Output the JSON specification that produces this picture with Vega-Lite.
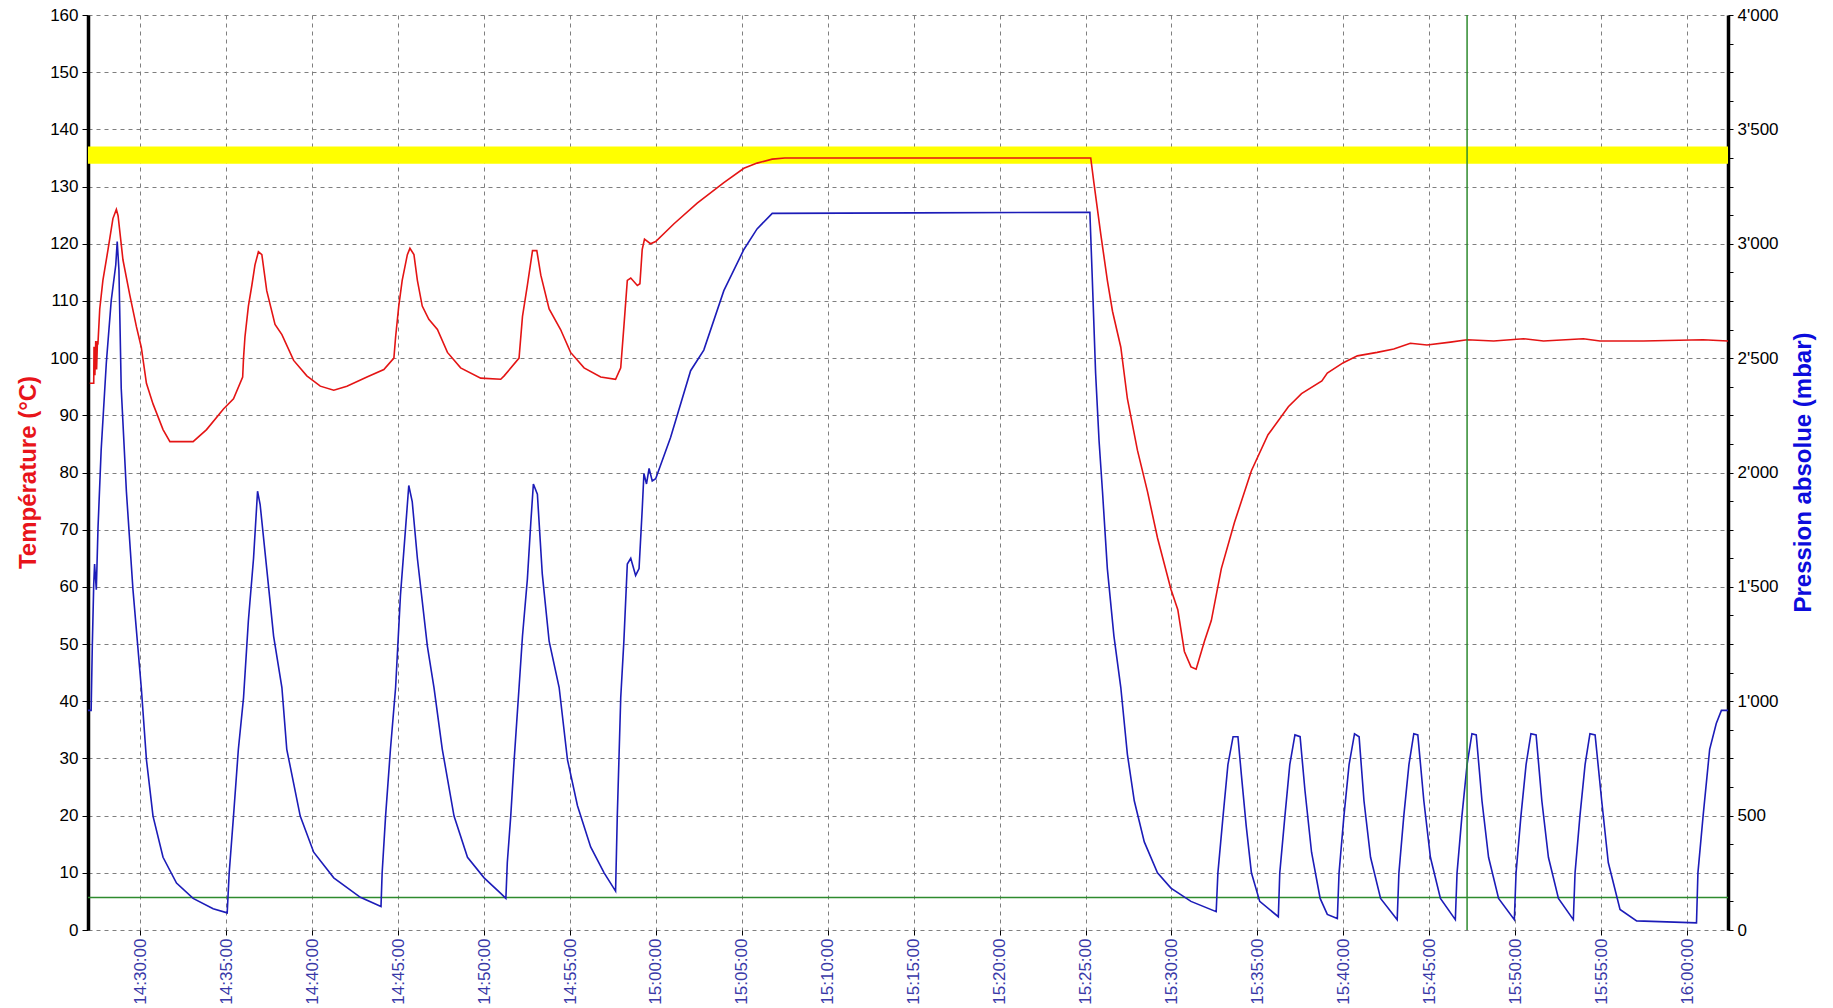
{
  "$schema": "https://vega.github.io/schema/vega-lite/v6.json",
  "width": 1640,
  "height": 915,
  "autosize": {"type": "none"},
  "padding": {"left": 88, "top": 15, "right": 105, "bottom": 78},
  "background": "white",
  "config": {
    "view": {"stroke": null},
    "axis": {
      "labelFont": "Liberation Sans",
      "labelFontSize": 17,
      "labelColor": "black",
      "titleFont": "Liberation Sans",
      "titleFontSize": 24,
      "titleFontWeight": "bold",
      "gridColor": "#7f7f7f",
      "gridDash": [4, 4],
      "gridWidth": 1,
      "tickColor": "black"
    }
  },
  "resolve": {"scale": {"y": "independent"}},
  "layer": [
    {
      "layer": [
        {
          "data": {"values": [{"lo": 134, "hi": 137}]},
          "mark": {"type": "rect", "color": "#ffff00"},
          "encoding": {
            "y": {
              "field": "lo", "type": "quantitative",
              "title": "Température (°C)",
              "scale": {"domain": [0, 160], "nice": false},
              "axis": {
                "orient": "left",
                "values": [0, 10, 20, 30, 40, 50, 60, 70, 80, 90, 100, 110, 120, 130, 140, 150, 160],
                "grid": true,
                "tickSize": 6,
                "labelPadding": 4,
                "domainColor": "black",
                "domainWidth": 3.5,
                "titleColor": "#e8141a",
                "titleAngle": 270,
                "titleX": -53,
                "titleY": 457,
                "titleAlign": "center",
                "titleBaseline": "alphabetic"
              }
            },
            "y2": {"field": "hi"}
          }
        },
        {
          "data": {"values": [{"lim": 5.7}]},
          "mark": {"type": "rule", "color": "#2e8b2e", "strokeWidth": 1.5},
          "encoding": {
            "y": {"field": "lim", "type": "quantitative", "title": "Température (°C)"}
          }
        },
        {
          "data": {"values": [
            {"t": "2024-01-01T14:27:03", "v": 95.6},
            {"t": "2024-01-01T14:27:17", "v": 95.6},
            {"t": "2024-01-01T14:27:18", "v": 102},
            {"t": "2024-01-01T14:27:21", "v": 97},
            {"t": "2024-01-01T14:27:24", "v": 103},
            {"t": "2024-01-01T14:27:27", "v": 98},
            {"t": "2024-01-01T14:27:30", "v": 103},
            {"t": "2024-01-01T14:27:32", "v": 102.8},
            {"t": "2024-01-01T14:27:38", "v": 108.6},
            {"t": "2024-01-01T14:27:49", "v": 113.6},
            {"t": "2024-01-01T14:28:07", "v": 119},
            {"t": "2024-01-01T14:28:24", "v": 124.4},
            {"t": "2024-01-01T14:28:36", "v": 126},
            {"t": "2024-01-01T14:28:42", "v": 124.9},
            {"t": "2024-01-01T14:28:59", "v": 117.2},
            {"t": "2024-01-01T14:29:23", "v": 111},
            {"t": "2024-01-01T14:29:46", "v": 105.5},
            {"t": "2024-01-01T14:30:03", "v": 101.9},
            {"t": "2024-01-01T14:30:21", "v": 95.6},
            {"t": "2024-01-01T14:30:44", "v": 92},
            {"t": "2024-01-01T14:31:19", "v": 87.5},
            {"t": "2024-01-01T14:31:43", "v": 85.4},
            {"t": "2024-01-01T14:33:04", "v": 85.4},
            {"t": "2024-01-01T14:33:51", "v": 87.5},
            {"t": "2024-01-01T14:34:50", "v": 91.1},
            {"t": "2024-01-01T14:35:25", "v": 92.9},
            {"t": "2024-01-01T14:35:57", "v": 96.7},
            {"t": "2024-01-01T14:36:00", "v": 100},
            {"t": "2024-01-01T14:36:05", "v": 103.7},
            {"t": "2024-01-01T14:36:17", "v": 109.1},
            {"t": "2024-01-01T14:36:29", "v": 112.7},
            {"t": "2024-01-01T14:36:40", "v": 116.3},
            {"t": "2024-01-01T14:36:52", "v": 118.6},
            {"t": "2024-01-01T14:37:04", "v": 118.1},
            {"t": "2024-01-01T14:37:21", "v": 111.8},
            {"t": "2024-01-01T14:37:50", "v": 105.9},
            {"t": "2024-01-01T14:38:14", "v": 104.1},
            {"t": "2024-01-01T14:38:55", "v": 99.6},
            {"t": "2024-01-01T14:39:41", "v": 96.9},
            {"t": "2024-01-01T14:40:28", "v": 95.1},
            {"t": "2024-01-01T14:41:15", "v": 94.4},
            {"t": "2024-01-01T14:42:01", "v": 95.1},
            {"t": "2024-01-01T14:43:11", "v": 96.7},
            {"t": "2024-01-01T14:44:10", "v": 98},
            {"t": "2024-01-01T14:44:45", "v": 100},
            {"t": "2024-01-01T14:44:51", "v": 103.7},
            {"t": "2024-01-01T14:45:02", "v": 109.1},
            {"t": "2024-01-01T14:45:14", "v": 113.6},
            {"t": "2024-01-01T14:45:32", "v": 118.1},
            {"t": "2024-01-01T14:45:41", "v": 119.2},
            {"t": "2024-01-01T14:45:55", "v": 118.1},
            {"t": "2024-01-01T14:46:07", "v": 113.6},
            {"t": "2024-01-01T14:46:24", "v": 109.1},
            {"t": "2024-01-01T14:46:47", "v": 106.8},
            {"t": "2024-01-01T14:47:17", "v": 105},
            {"t": "2024-01-01T14:47:52", "v": 101},
            {"t": "2024-01-01T14:48:38", "v": 98.3},
            {"t": "2024-01-01T14:49:48", "v": 96.5},
            {"t": "2024-01-01T14:50:58", "v": 96.3},
            {"t": "2024-01-01T14:51:10", "v": 96.9},
            {"t": "2024-01-01T14:52:02", "v": 100},
            {"t": "2024-01-01T14:52:14", "v": 107.3},
            {"t": "2024-01-01T14:52:31", "v": 112.7},
            {"t": "2024-01-01T14:52:49", "v": 118.8},
            {"t": "2024-01-01T14:53:04", "v": 118.8},
            {"t": "2024-01-01T14:53:18", "v": 114.5},
            {"t": "2024-01-01T14:53:47", "v": 108.6},
            {"t": "2024-01-01T14:54:27", "v": 105},
            {"t": "2024-01-01T14:55:02", "v": 101},
            {"t": "2024-01-01T14:55:49", "v": 98.3},
            {"t": "2024-01-01T14:56:47", "v": 96.7},
            {"t": "2024-01-01T14:57:39", "v": 96.3},
            {"t": "2024-01-01T14:57:57", "v": 98.3},
            {"t": "2024-01-01T14:58:08", "v": 105.5},
            {"t": "2024-01-01T14:58:20", "v": 113.6},
            {"t": "2024-01-01T14:58:32", "v": 114},
            {"t": "2024-01-01T14:58:55", "v": 112.7},
            {"t": "2024-01-01T14:59:04", "v": 113},
            {"t": "2024-01-01T14:59:12", "v": 119},
            {"t": "2024-01-01T14:59:20", "v": 120.8},
            {"t": "2024-01-01T14:59:41", "v": 120},
            {"t": "2024-01-01T14:59:59", "v": 120.4},
            {"t": "2024-01-01T15:01:03", "v": 123.5},
            {"t": "2024-01-01T15:02:24", "v": 127.1},
            {"t": "2024-01-01T15:03:57", "v": 130.7},
            {"t": "2024-01-01T15:05:07", "v": 133.2},
            {"t": "2024-01-01T15:05:53", "v": 134.1},
            {"t": "2024-01-01T15:06:46", "v": 134.8},
            {"t": "2024-01-01T15:07:30", "v": 135},
            {"t": "2024-01-01T15:15:00", "v": 135},
            {"t": "2024-01-01T15:25:18", "v": 135},
            {"t": "2024-01-01T15:25:29", "v": 130.7},
            {"t": "2024-01-01T15:25:53", "v": 121.7},
            {"t": "2024-01-01T15:26:16", "v": 113.6},
            {"t": "2024-01-01T15:26:34", "v": 108.2},
            {"t": "2024-01-01T15:27:03", "v": 101.9},
            {"t": "2024-01-01T15:27:26", "v": 92.9},
            {"t": "2024-01-01T15:28:01", "v": 83.9},
            {"t": "2024-01-01T15:28:36", "v": 76.7},
            {"t": "2024-01-01T15:29:11", "v": 68.6},
            {"t": "2024-01-01T15:29:58", "v": 59.6},
            {"t": "2024-01-01T15:30:22", "v": 56},
            {"t": "2024-01-01T15:30:45", "v": 48.7},
            {"t": "2024-01-01T15:31:08", "v": 46},
            {"t": "2024-01-01T15:31:26", "v": 45.6},
            {"t": "2024-01-01T15:31:55", "v": 50.5},
            {"t": "2024-01-01T15:32:19", "v": 54.1},
            {"t": "2024-01-01T15:32:54", "v": 63.2},
            {"t": "2024-01-01T15:33:40", "v": 71.3},
            {"t": "2024-01-01T15:34:39", "v": 80.3},
            {"t": "2024-01-01T15:35:37", "v": 86.6},
            {"t": "2024-01-01T15:36:48", "v": 91.5},
            {"t": "2024-01-01T15:37:34", "v": 93.8},
            {"t": "2024-01-01T15:38:45", "v": 96},
            {"t": "2024-01-01T15:39:04", "v": 97.4},
            {"t": "2024-01-01T15:40:00", "v": 99.2},
            {"t": "2024-01-01T15:40:49", "v": 100.4},
            {"t": "2024-01-01T15:41:58", "v": 101},
            {"t": "2024-01-01T15:42:56", "v": 101.6},
            {"t": "2024-01-01T15:43:54", "v": 102.6},
            {"t": "2024-01-01T15:44:52", "v": 102.3},
            {"t": "2024-01-01T15:46:14", "v": 102.8},
            {"t": "2024-01-01T15:47:12", "v": 103.2},
            {"t": "2024-01-01T15:48:45", "v": 103},
            {"t": "2024-01-01T15:50:29", "v": 103.4},
            {"t": "2024-01-01T15:51:39", "v": 103},
            {"t": "2024-01-01T15:53:58", "v": 103.4},
            {"t": "2024-01-01T15:54:56", "v": 103},
            {"t": "2024-01-01T15:57:27", "v": 103},
            {"t": "2024-01-01T16:00:56", "v": 103.2},
            {"t": "2024-01-01T16:02:23", "v": 103}
          ]},
          "mark": {"type": "line", "color": "#e41414", "strokeWidth": 1.6, "clip": true},
          "encoding": {
            "x": {
              "field": "t", "type": "temporal", "title": null,
              "axis": {
                "format": "%H:%M:%S",
                "labelAngle": 270,
                "labelColor": "#3838a8",
                "labelPadding": 3,
                "tickSize": 5,
                "domain": false,
                "grid": true
              }
            },
            "y": {"field": "v", "type": "quantitative", "title": "Température (°C)"}
          }
        }
      ]
    },
    {
      "layer": [
        {
          "data": {"values": [
            {"t": "2024-01-01T14:26:57", "p": 960},
            {"t": "2024-01-01T14:27:08", "p": 960},
            {"t": "2024-01-01T14:27:12", "p": 1240},
            {"t": "2024-01-01T14:27:17", "p": 1512},
            {"t": "2024-01-01T14:27:20", "p": 1600},
            {"t": "2024-01-01T14:27:26", "p": 1488},
            {"t": "2024-01-01T14:27:32", "p": 1760},
            {"t": "2024-01-01T14:27:43", "p": 2100},
            {"t": "2024-01-01T14:28:01", "p": 2480},
            {"t": "2024-01-01T14:28:18", "p": 2750},
            {"t": "2024-01-01T14:28:34", "p": 2908},
            {"t": "2024-01-01T14:28:39", "p": 3010},
            {"t": "2024-01-01T14:28:45", "p": 2885},
            {"t": "2024-01-01T14:28:53", "p": 2368},
            {"t": "2024-01-01T14:29:11", "p": 1918},
            {"t": "2024-01-01T14:29:34", "p": 1488},
            {"t": "2024-01-01T14:30:03", "p": 1060},
            {"t": "2024-01-01T14:30:21", "p": 745},
            {"t": "2024-01-01T14:30:44", "p": 498},
            {"t": "2024-01-01T14:31:19", "p": 318},
            {"t": "2024-01-01T14:32:06", "p": 205},
            {"t": "2024-01-01T14:33:04", "p": 138},
            {"t": "2024-01-01T14:34:14", "p": 93},
            {"t": "2024-01-01T14:35:03", "p": 75},
            {"t": "2024-01-01T14:35:10", "p": 250},
            {"t": "2024-01-01T14:35:25", "p": 498},
            {"t": "2024-01-01T14:35:42", "p": 790},
            {"t": "2024-01-01T14:36:00", "p": 1015},
            {"t": "2024-01-01T14:36:17", "p": 1353},
            {"t": "2024-01-01T14:36:35", "p": 1625},
            {"t": "2024-01-01T14:36:49", "p": 1918},
            {"t": "2024-01-01T14:36:58", "p": 1860},
            {"t": "2024-01-01T14:37:21", "p": 1580},
            {"t": "2024-01-01T14:37:45", "p": 1285},
            {"t": "2024-01-01T14:38:14", "p": 1060},
            {"t": "2024-01-01T14:38:31", "p": 790},
            {"t": "2024-01-01T14:39:18", "p": 498},
            {"t": "2024-01-01T14:40:05", "p": 340},
            {"t": "2024-01-01T14:41:15", "p": 228},
            {"t": "2024-01-01T14:42:48", "p": 143},
            {"t": "2024-01-01T14:44:00", "p": 103},
            {"t": "2024-01-01T14:44:04", "p": 250},
            {"t": "2024-01-01T14:44:16", "p": 498},
            {"t": "2024-01-01T14:44:33", "p": 790},
            {"t": "2024-01-01T14:44:51", "p": 1060},
            {"t": "2024-01-01T14:45:08", "p": 1465},
            {"t": "2024-01-01T14:45:26", "p": 1760},
            {"t": "2024-01-01T14:45:37", "p": 1943},
            {"t": "2024-01-01T14:45:49", "p": 1873},
            {"t": "2024-01-01T14:46:07", "p": 1625},
            {"t": "2024-01-01T14:46:42", "p": 1240},
            {"t": "2024-01-01T14:47:05", "p": 1060},
            {"t": "2024-01-01T14:47:34", "p": 790},
            {"t": "2024-01-01T14:48:15", "p": 498},
            {"t": "2024-01-01T14:49:02", "p": 318},
            {"t": "2024-01-01T14:50:00", "p": 228},
            {"t": "2024-01-01T14:50:58", "p": 160},
            {"t": "2024-01-01T14:51:16", "p": 138},
            {"t": "2024-01-01T14:51:21", "p": 295},
            {"t": "2024-01-01T14:51:33", "p": 498},
            {"t": "2024-01-01T14:51:45", "p": 745},
            {"t": "2024-01-01T14:52:02", "p": 1060},
            {"t": "2024-01-01T14:52:14", "p": 1285},
            {"t": "2024-01-01T14:52:31", "p": 1533},
            {"t": "2024-01-01T14:52:43", "p": 1780},
            {"t": "2024-01-01T14:52:52", "p": 1950},
            {"t": "2024-01-01T14:53:06", "p": 1905},
            {"t": "2024-01-01T14:53:23", "p": 1558},
            {"t": "2024-01-01T14:53:47", "p": 1263},
            {"t": "2024-01-01T14:54:22", "p": 1060},
            {"t": "2024-01-01T14:54:51", "p": 745},
            {"t": "2024-01-01T14:55:26", "p": 543},
            {"t": "2024-01-01T14:56:12", "p": 363},
            {"t": "2024-01-01T14:56:59", "p": 250},
            {"t": "2024-01-01T14:57:39", "p": 170},
            {"t": "2024-01-01T14:57:45", "p": 498},
            {"t": "2024-01-01T14:57:57", "p": 1015},
            {"t": "2024-01-01T14:58:08", "p": 1263},
            {"t": "2024-01-01T14:58:20", "p": 1600},
            {"t": "2024-01-01T14:58:32", "p": 1625},
            {"t": "2024-01-01T14:58:49", "p": 1550},
            {"t": "2024-01-01T14:59:01", "p": 1580},
            {"t": "2024-01-01T14:59:12", "p": 1838},
            {"t": "2024-01-01T14:59:18", "p": 1995},
            {"t": "2024-01-01T14:59:27", "p": 1950},
            {"t": "2024-01-01T14:59:36", "p": 2018},
            {"t": "2024-01-01T14:59:47", "p": 1963},
            {"t": "2024-01-01T14:59:59", "p": 1973},
            {"t": "2024-01-01T15:00:51", "p": 2153},
            {"t": "2024-01-01T15:02:01", "p": 2445},
            {"t": "2024-01-01T15:02:47", "p": 2535},
            {"t": "2024-01-01T15:03:57", "p": 2795},
            {"t": "2024-01-01T15:05:07", "p": 2975},
            {"t": "2024-01-01T15:05:53", "p": 3065},
            {"t": "2024-01-01T15:06:46", "p": 3133},
            {"t": "2024-01-01T15:15:00", "p": 3135},
            {"t": "2024-01-01T15:25:15", "p": 3138},
            {"t": "2024-01-01T15:25:23", "p": 2863},
            {"t": "2024-01-01T15:25:35", "p": 2435},
            {"t": "2024-01-01T15:25:47", "p": 2140},
            {"t": "2024-01-01T15:25:59", "p": 1918},
            {"t": "2024-01-01T15:26:16", "p": 1580},
            {"t": "2024-01-01T15:26:39", "p": 1285},
            {"t": "2024-01-01T15:27:03", "p": 1060},
            {"t": "2024-01-01T15:27:26", "p": 768},
            {"t": "2024-01-01T15:27:50", "p": 565},
            {"t": "2024-01-01T15:28:25", "p": 385},
            {"t": "2024-01-01T15:29:11", "p": 250},
            {"t": "2024-01-01T15:29:58", "p": 183},
            {"t": "2024-01-01T15:31:08", "p": 125},
            {"t": "2024-01-01T15:32:36", "p": 80},
            {"t": "2024-01-01T15:32:42", "p": 250},
            {"t": "2024-01-01T15:33:00", "p": 498},
            {"t": "2024-01-01T15:33:17", "p": 723},
            {"t": "2024-01-01T15:33:35", "p": 845},
            {"t": "2024-01-01T15:33:52", "p": 845},
            {"t": "2024-01-01T15:34:04", "p": 678},
            {"t": "2024-01-01T15:34:21", "p": 453},
            {"t": "2024-01-01T15:34:39", "p": 250},
            {"t": "2024-01-01T15:35:08", "p": 125},
            {"t": "2024-01-01T15:36:13", "p": 58},
            {"t": "2024-01-01T15:36:18", "p": 250},
            {"t": "2024-01-01T15:36:36", "p": 498},
            {"t": "2024-01-01T15:36:53", "p": 723},
            {"t": "2024-01-01T15:37:11", "p": 853},
            {"t": "2024-01-01T15:37:29", "p": 845},
            {"t": "2024-01-01T15:37:46", "p": 610},
            {"t": "2024-01-01T15:38:09", "p": 340},
            {"t": "2024-01-01T15:38:39", "p": 138},
            {"t": "2024-01-01T15:39:04", "p": 68},
            {"t": "2024-01-01T15:39:39", "p": 50},
            {"t": "2024-01-01T15:39:45", "p": 250},
            {"t": "2024-01-01T15:40:02", "p": 498},
            {"t": "2024-01-01T15:40:20", "p": 723},
            {"t": "2024-01-01T15:40:39", "p": 858},
            {"t": "2024-01-01T15:40:55", "p": 845},
            {"t": "2024-01-01T15:41:12", "p": 565},
            {"t": "2024-01-01T15:41:35", "p": 318},
            {"t": "2024-01-01T15:42:10", "p": 138},
            {"t": "2024-01-01T15:43:08", "p": 45},
            {"t": "2024-01-01T15:43:14", "p": 250},
            {"t": "2024-01-01T15:43:31", "p": 498},
            {"t": "2024-01-01T15:43:49", "p": 723},
            {"t": "2024-01-01T15:44:06", "p": 858},
            {"t": "2024-01-01T15:44:20", "p": 853},
            {"t": "2024-01-01T15:44:41", "p": 565},
            {"t": "2024-01-01T15:45:04", "p": 318},
            {"t": "2024-01-01T15:45:39", "p": 138},
            {"t": "2024-01-01T15:46:31", "p": 45},
            {"t": "2024-01-01T15:46:37", "p": 250},
            {"t": "2024-01-01T15:46:54", "p": 498},
            {"t": "2024-01-01T15:47:12", "p": 723},
            {"t": "2024-01-01T15:47:29", "p": 858},
            {"t": "2024-01-01T15:47:44", "p": 853},
            {"t": "2024-01-01T15:48:04", "p": 565},
            {"t": "2024-01-01T15:48:27", "p": 318},
            {"t": "2024-01-01T15:49:02", "p": 138},
            {"t": "2024-01-01T15:49:57", "p": 45},
            {"t": "2024-01-01T15:50:03", "p": 250},
            {"t": "2024-01-01T15:50:20", "p": 498},
            {"t": "2024-01-01T15:50:38", "p": 723},
            {"t": "2024-01-01T15:50:55", "p": 858},
            {"t": "2024-01-01T15:51:13", "p": 853},
            {"t": "2024-01-01T15:51:33", "p": 565},
            {"t": "2024-01-01T15:51:56", "p": 318},
            {"t": "2024-01-01T15:52:31", "p": 138},
            {"t": "2024-01-01T15:53:23", "p": 45},
            {"t": "2024-01-01T15:53:29", "p": 250},
            {"t": "2024-01-01T15:53:46", "p": 498},
            {"t": "2024-01-01T15:54:04", "p": 723},
            {"t": "2024-01-01T15:54:21", "p": 858},
            {"t": "2024-01-01T15:54:39", "p": 853},
            {"t": "2024-01-01T15:55:02", "p": 565},
            {"t": "2024-01-01T15:55:25", "p": 295},
            {"t": "2024-01-01T15:56:06", "p": 90},
            {"t": "2024-01-01T15:57:04", "p": 40},
            {"t": "2024-01-01T16:00:33", "p": 31},
            {"t": "2024-01-01T16:00:38", "p": 250},
            {"t": "2024-01-01T16:00:56", "p": 498},
            {"t": "2024-01-01T16:01:19", "p": 790},
            {"t": "2024-01-01T16:01:42", "p": 903},
            {"t": "2024-01-01T16:02:00", "p": 960},
            {"t": "2024-01-01T16:02:23", "p": 960}
          ]},
          "mark": {"type": "line", "color": "#1c1cb8", "strokeWidth": 1.6, "clip": true},
          "encoding": {
            "x": {"field": "t", "type": "temporal", "title": null},
            "y": {
              "field": "p", "type": "quantitative",
              "title": "Pression absolue (mbar)",
              "scale": {"domain": [0, 4000], "nice": false},
              "axis": {
                "orient": "right",
                "values": [0, 125, 250, 375, 500, 625, 750, 875, 1000, 1125, 1250, 1375, 1500, 1625, 1750, 1875, 2000, 2125, 2250, 2375, 2500, 2625, 2750, 2875, 3000, 3125, 3250, 3375, 3500, 3625, 3750, 3875, 4000],
                "labelExpr": "datum.value % 500 === 0 ? replace(format(datum.value, ','), ',', \"'\") : ''",
                "grid": false,
                "tickSize": 5,
                "labelPadding": 4,
                "domainColor": "black",
                "domainWidth": 3.5,
                "titleColor": "#0c0cdc",
                "titleAngle": 270,
                "titleX": 82,
                "titleY": 457,
                "titleAlign": "center",
                "titleBaseline": "alphabetic"
              }
            }
          }
        },
        {
          "data": {"values": [{"t": "2024-01-01T15:47:12"}]},
          "mark": {"type": "rule", "color": "#2e8b2e", "strokeWidth": 1.5},
          "encoding": {
            "x": {"field": "t", "type": "temporal", "title": null}
          }
        }
      ]
    }
  ]
}
